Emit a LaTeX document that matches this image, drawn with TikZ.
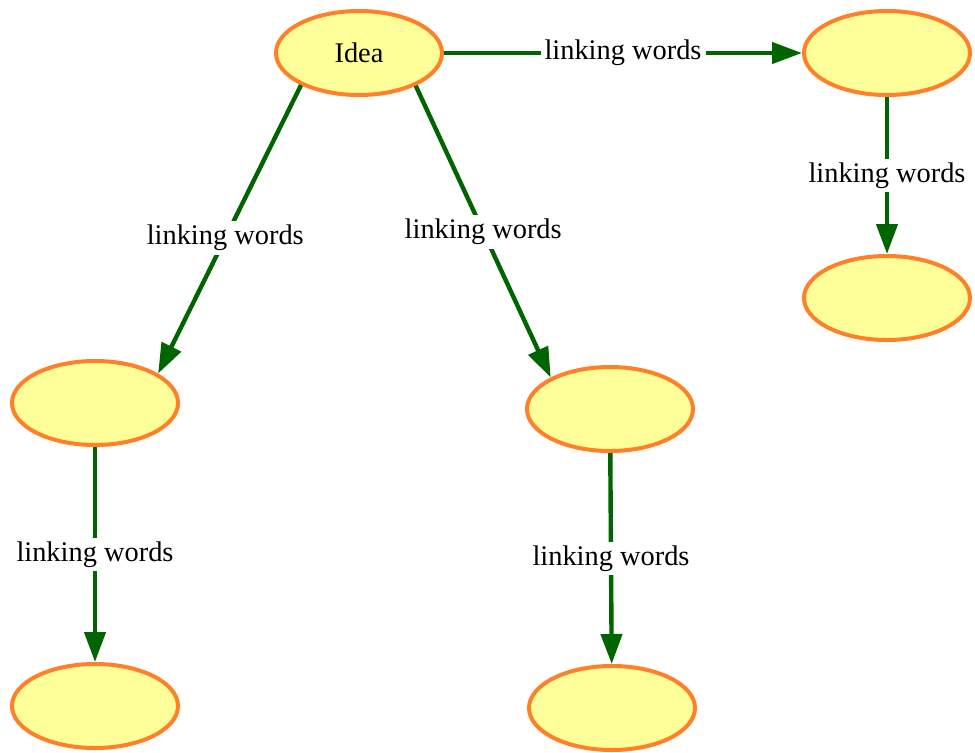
\documentclass[tikz,border=0pt]{standalone}
\usepackage{fontspec}
\setmainfont{Liberation Serif}
\usetikzlibrary{shapes.geometric,arrows.meta}
\definecolor{edgegreen}{RGB}{0,100,0}
\definecolor{nodeorange}{RGB}{255,128,40}
\definecolor{nodefill}{RGB}{255,255,153}
\tikzset{
	concept/.style={ellipse, draw=nodeorange, fill=nodefill, line width=2pt,
		minimum width=83pt, minimum height=42pt, inner sep=0pt},
	link/.style={draw=edgegreen, line width=2.2pt, -{Triangle[length=15pt,width=10.5pt]}},
	words/.style={fill=white, inner sep=2pt}
}
\begin{document}
\begin{tikzpicture}[x=0.5pt, y=-0.5pt, font=\fontsize{14.2}{16}\selectfont]
		\useasboundingbox (0,0) rectangle (975,752);
		\node[concept] (idea) at (359,53) {Idea};
		\node[concept] (topright) at (887,53) {};
		\node[concept] (rightlow) at (887,298) {};
		\node[concept] (leftmid) at (95,403) {};
		\node[concept] (midmid) at (610,409) {};
		\node[concept] (leftlow) at (95,706) {};
		\node[concept] (midlow) at (612,708) {};
		\draw[link] (idea) -- (topright) node[midway, words] {linking words};
		\draw[link] (idea.209) -- (leftmid.25) node[pos=0.53, words] {linking words};
		\draw[link] (idea.330) -- (midmid.152) node[midway, words] {linking words};
		\draw[link] (topright) -- (rightlow) node[midway, words] {linking words};
		\draw[link] (leftmid) -- (leftlow) node[midway, words] {linking words};
		\draw[link] (midmid) -- (midlow) node[midway, words] {linking words};
	\end{tikzpicture}
\end{document}
